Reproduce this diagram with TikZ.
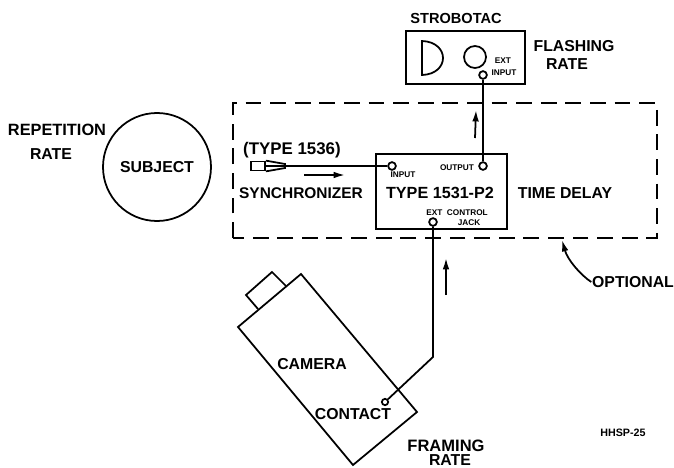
\documentclass[tikz,border=0pt]{standalone}
\usepackage{fontspec}
\setmainfont{Liberation Sans}
\usetikzlibrary{arrows.meta,calc}

\begin{document}
\begin{tikzpicture}[>={Latex[length=6.5pt,width=3.8pt]},line width=1pt,
  lab/.style={font=\fontsize{9}{10}\selectfont\bfseries,inner sep=0pt},
  tiny lab/.style={font=\fontsize{4.7}{5}\selectfont\bfseries,inner sep=0pt},
  jack/.style={circle,draw,line width=1pt,fill=white,inner sep=0pt,minimum size=4.4pt}]
\useasboundingbox (0,0) rectangle (13.48,9.34);

% optional part
\draw[dashed,dash pattern=on 9pt off 5pt] (4.66,4.58) rectangle (13.14,7.28);

% strobotac
\node[draw,minimum width=2.38cm,minimum height=1.06cm,inner sep=0pt] (strobotac) at (9.31,8.19) {};
\draw (8.44,8.52) .. controls (9.0,8.5) and (9.0,7.86) .. (8.44,7.84) -- cycle;
\draw (9.5,8.2) circle (0.22);
\node[lab,font=\fontsize{8.3}{9}\selectfont\bfseries] (strobename) at (9.12,8.98) {STROBOTAC};
\node[lab] (flashing) at (11.48,8.42) {FLASHING};
\node[lab] (flashrate) at (11.34,8.06) {RATE};
\node[tiny lab] (extname) at (10.06,8.12) {EXT};
\node[tiny lab] (inname) at (10.08,7.88) {INPUT};

% delay unit
\node[draw,minimum width=2.62cm,minimum height=1.5cm,inner sep=0pt] (delay) at (8.83,5.51) {};
\node[lab,font=\fontsize{9.2}{10}\selectfont\bfseries] at (8.8,5.48) (typename) {TYPE 1531-P2};
\node[lab] (timedelay) at (11.3,5.48) {TIME DELAY};
\node[tiny lab] (inputname) at (8.06,5.84) {INPUT};
\node[tiny lab] (outputname) at (9.14,5.98) {OUTPUT};
\node[tiny lab] (controlname) at (9.14,5.08) {EXT\ \ CONTROL};
\node[tiny lab] (jackname) at (9.38,4.88) {JACK};

% synchronizer
\node[draw,minimum width=0.28cm,minimum height=0.18cm,inner sep=0pt] (plug) at (5.16,6.02) {};
\draw (plug.north east) -- (5.7,6.06) -- (5.7,5.98) -- (plug.south east);
\node[lab,font=\fontsize{9.6}{10}\selectfont\bfseries] (typesync) at (5.84,6.34) {(TYPE 1536)};
\node[lab,font=\fontsize{8.8}{10}\selectfont\bfseries] (synchronizer) at (6.02,5.48) {SYNCHRONIZER};

% jacks
\node[jack] (extinput) at (9.66,7.84) {};
\node[jack] (output) at (9.66,6.02) {};
\node[jack] (input) at (7.84,6.02) {};
\node[jack] (extcontrol) at (8.66,4.9) {};
\node[jack,minimum size=3.6pt] (contact) at (7.7,1.3) {};
\coordinate (bend) at (8.66,2.2);

\draw (plug.east) -- (input);
\draw (output) -- (extinput);
\draw (extcontrol) -- (bend) -- (contact);

% signal direction
\draw[->] (6.08,5.84) -- (6.9,5.84);
\draw[->] (9.5,6.58) -- (9.52,7.14);
\draw[->] (8.92,3.44) -- (8.92,4.18);

% subject
\node[circle,draw,minimum size=2.16cm,inner sep=0pt,lab] (subject) at (3.14,6.0) {SUBJECT};
\node[lab,font=\fontsize{9.3}{10}\selectfont\bfseries] (repetition) at (1.14,6.74) {REPETITION};
\node[lab] (reprate) at (1.02,6.26) {RATE};

% camera
\draw (4.76,2.8) -- (6.02,3.86) -- (8.34,1.1) -- (7.06,0.04) -- cycle;
\draw (5.16,3.16) -- (4.92,3.44) -- (5.44,3.9) -- (5.72,3.62);
\node[lab] (camera) at (6.24,2.06) {CAMERA};
\node[lab] (contactname) at (7.06,1.06) {CONTACT};
\node[lab,font=\fontsize{9.4}{10}\selectfont\bfseries] (framing) at (8.92,0.42) {FRAMING};
\node[lab] (framerate) at (9.0,0.14) {RATE};

% notes
\node[lab] (optional) at (12.66,3.7) {OPTIONAL};
\coordinate (optend) at (11.24,4.54);
\draw[->] (optional.west) .. controls (11.6,3.85) and (11.35,4.15) .. (optend);
\node[font=\fontsize{6.1}{7}\selectfont\bfseries,inner sep=0pt] (plate) at (12.46,0.68) {HHSP-25};
\end{tikzpicture}
\end{document}
